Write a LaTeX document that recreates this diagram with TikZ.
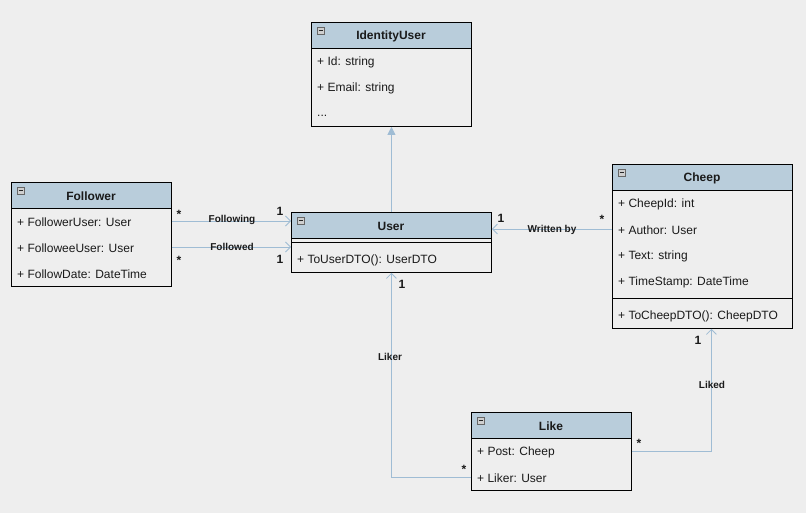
\documentclass[tikz,border=0pt]{standalone}
\usepackage{fontspec}
\setmainfont{Liberation Sans}
\usetikzlibrary{arrows.meta,calc}
\definecolor{bg}{HTML}{EEEEEE}
\definecolor{hdr}{HTML}{B9CDDB}
\definecolor{conn}{HTML}{9FBCD4}
\definecolor{txt}{HTML}{1A1A1A}
\definecolor{icon}{HTML}{CFCFCF}
\tikzset{
  classbox/.style={draw=black, line width=0.9pt, fill=bg, anchor=north west, inner sep=0pt},
  attr/.style={anchor=west, inner sep=0pt, yshift=-1pt, font=\fontsize{12}{14}\selectfont, text=txt},
  title/.style={inner sep=0pt, yshift=-1pt, font=\fontsize{12}{14}\selectfont\bfseries, text=txt},
  lbl/.style={inner sep=0pt, font=\fontsize{10}{12}\selectfont\bfseries, text=txt},
  mult/.style={inner sep=0pt, font=\fontsize{12}{14}\selectfont\bfseries, text=txt},
  assoc/.style={draw=conn, line width=0.8pt, -{Straight Barb[length=5pt,width=10pt,line width=0.8pt]}},
  inherit/.style={draw=conn, line width=0.8pt, -{Triangle[length=8pt,width=8pt,fill=conn]}},
  sepline/.style={draw=black, line width=0.9pt},
}
\newcommand{\classhead}[2]{% node name, header height
  \fill[hdr] (#1.north west) rectangle ($(#1.north east)+(0,#2)$);
  \draw[sepline] ($(#1.north west)+(0,#2)$) -- ($(#1.north east)+(0,#2)$);
  \draw[fill=icon, draw=black!60, line width=0.6pt] ($(#1.north west)+(6,5)$) rectangle ++(7,7);
  \draw[black!85, line width=1pt] ($(#1.north west)+(7.5,8.5)$) -- ++(4,0);
  \draw[black, line width=0.9pt] (#1.north west) rectangle (#1.south east);
}
\begin{document}
\begin{tikzpicture}[x=1pt,y=-1pt]
\fill[bg] (0,0) rectangle (806,513);
\useasboundingbox (0,0) rectangle (806,513);

% IdentityUser
\node[classbox, minimum width=160pt, minimum height=104pt] (identity) at (311,22) {};
\classhead{identity}{26}
\node[title] (identity-t) at (391,35) {IdentityUser};
\node[attr] (identity-r1) at (317,61) {+ Id: string};
\node[attr] (identity-r2) at (317,87) {+ Email: string};
\node[attr] (identity-r3) at (317,115) {...};

% Follower
\node[classbox, minimum width=160pt, minimum height=104pt] (follower) at (11,182) {};
\classhead{follower}{26}
\node[title] (follower-t) at (91,195) {Follower};
\node[attr] (follower-r1) at (17,221) {+ FollowerUser: User};
\node[attr] (follower-r2) at (17,247) {+ FolloweeUser: User};
\node[attr] (follower-r3) at (17,273) {+ FollowDate: DateTime};

% User
\node[classbox, minimum width=200pt, minimum height=60pt] (user) at (291,212) {};
\classhead{user}{26}
\draw[sepline] ($(user.north west)+(0,30)$) -- ($(user.north east)+(0,30)$);
\node[title] (user-t) at (391,225) {User};
\node[attr] (user-m1) at (297,259) {+ ToUserDTO(): UserDTO};

% Cheep
\node[classbox, minimum width=180pt, minimum height=164pt] (cheep) at (612,164) {};
\classhead{cheep}{26}
\draw[sepline] ($(cheep.north west)+(0,134)$) -- ($(cheep.north east)+(0,134)$);
\node[title] (cheep-t) at (702,177) {Cheep};
\node[attr] (cheep-r1) at (618,203) {+ CheepId: int};
\node[attr] (cheep-r2) at (618,229) {+ Author: User};
\node[attr] (cheep-r3) at (618,255) {+ Text: string};
\node[attr] (cheep-r4) at (618,281) {+ TimeStamp: DateTime};
\node[attr] (cheep-m1) at (618,315) {+ ToCheepDTO(): CheepDTO};

% Like
\node[classbox, minimum width=160pt, minimum height=78pt] (like) at (471,412) {};
\classhead{like}{26}
\node[title] (like-t) at (551,425) {Like};
\node[attr] (like-r1) at (477,451) {+ Post: Cheep};
\node[attr] (like-r2) at (477,477) {+ Liker: User};

% Inheritance
\draw[inherit] (user.north) -- (identity.south);

% Following / Followed
\coordinate (row-following) at (0,221);
\coordinate (row-followed) at (0,247);
\draw[assoc] (row-following -| follower.east) -- (row-following -| user.west);
\draw[assoc] (row-followed -| follower.east) -- (row-followed -| user.west);
\node[lbl] (l-following) at (232,220) {Following};
\node[lbl] (l-followed) at (232,247) {Followed};
\node[mult] (m-f1a) at (179,214) {*};
\node[mult] (m-f1b) at (280,211) {1};
\node[mult] (m-f2a) at (179,260) {*};
\node[mult] (m-f2b) at (280,259) {1};

% Written by
\coordinate (row-written) at (0,229);
\draw[assoc] (row-written -| cheep.west) -- (row-written -| user.east);
\node[lbl] (l-written) at (552,230) {Written by};
\node[mult] (m-w1) at (501,218) {1};
\node[mult] (m-w2) at (602,219) {*};

% Liker
\coordinate (row-liker) at (0,477);
\coordinate (liker-c) at (row-liker -| user.south);
\draw[assoc] (row-liker -| like.west) -- (liker-c) -- (user.south);
\node[lbl] (l-liker) at (390,357) {Liker};
\node[mult] (m-l1) at (402,284) {1};
\node[mult] (m-l2) at (464,469) {*};

% Liked
\coordinate (row-liked) at (0,451);
\coordinate (cheep-in) at ($(cheep.south)+(9,0)$);
\coordinate (liked-c) at (row-liked -| cheep-in);
\draw[assoc] (row-liked -| like.east) -- (liked-c) -- (cheep-in);
\node[lbl] (l-liked) at (712,385) {Liked};
\node[mult] (m-k1) at (698,340) {1};
\node[mult] (m-k2) at (639,443) {*};
\end{tikzpicture}
\end{document}
